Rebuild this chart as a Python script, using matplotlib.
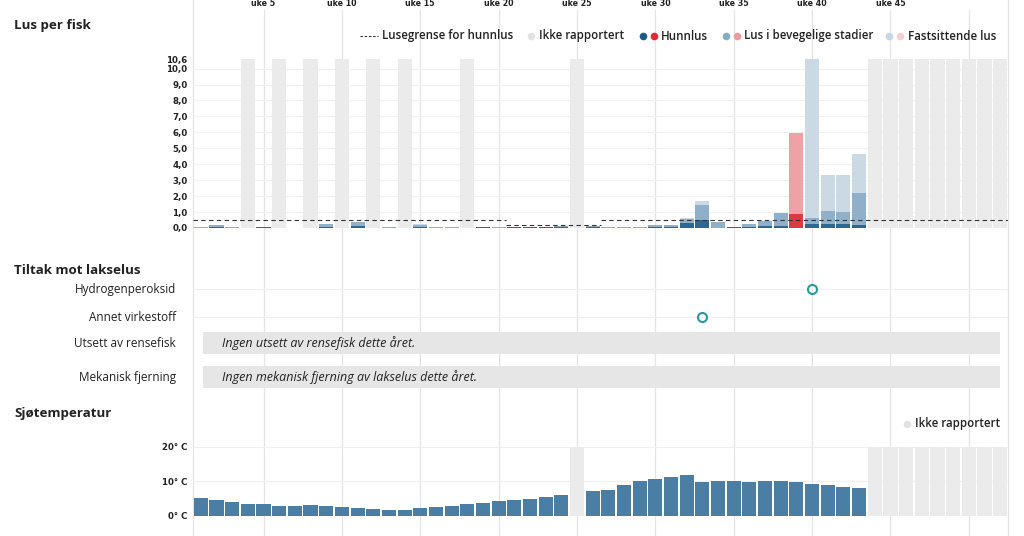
import matplotlib
matplotlib.use("Agg")
import matplotlib.pyplot as plt
import matplotlib.transforms as mtransforms
from matplotlib.patches import Rectangle
import numpy as np

# ---------------- data ----------------
weeks = list(range(1, 53))
not_reported_lice = [4, 6, 8, 10, 12, 14, 18, 25] + list(range(44, 53))
# lice per fish by week (weeks not reported -> 0)
hunnlus = [0.02, 0.05, 0.01, 0, 0.04, 0, 0.01, 0, 0.08, 0,
           0.15, 0, 0.02, 0, 0.05, 0.01, 0.01, 0, 0.04, 0.03,
           0.05, 0.04, 0.05, 0.08, 0, 0.06, 0.01, 0.01, 0.02, 0.05,
           0.07, 0.30, 0.50, 0.02, 0.05, 0.08, 0.12, 0.12, 0.85, 0.25,
           0.27, 0.22, 0.20] + [0] * 9
bevegelige = [0.03, 0.15, 0.03, 0, 0.02, 0, 0.02, 0, 0.14, 0,
              0.20, 0, 0.05, 0, 0.15, 0.04, 0.04, 0, 0.02, 0.03,
              0.03, 0.04, 0.03, 0.05, 0, 0.05, 0.04, 0.04, 0.05, 0.12,
              0.11, 0.25, 0.97, 0.37, 0.02, 0.17, 0.33, 0.83, 5.10, 0.40,
              0.80, 0.78, 1.97] + [0] * 9
fastsittende = [0, 0, 0.01, 0, 0, 0, 0, 0, 0.02, 0,
                0.02, 0, 0, 0, 0.02, 0, 0, 0, 0, 0,
                0, 0, 0, 0, 0, 0, 0, 0, 0, 0.02,
                0.02, 0.07, 0.20, 0.01, 0, 0, 0, 0, 0, 9.95,
                2.28, 2.35, 2.50] + [0] * 9
lusegrense = [0.5] * 20 + [0.2] * 6 + [0.5] * 26
lice_ymax = 10.6
lice_ticks = [0, 1, 2, 3, 4, 5, 6, 7, 8, 9, 10, 10.6]

treatment_rows = ["Hydrogenperoksid", "Annet virkestoff", "Utsett av rensefisk", "Mekanisk fjerning"]
treatment_weeks = {"Hydrogenperoksid": [40], "Annet virkestoff": [33]}
treatment_notes = {"Utsett av rensefisk": "Ingen utsett av rensefisk dette året.",
                   "Mekanisk fjerning": "Ingen mekanisk fjerning av lakselus dette året."}

temperature = [5.1, 4.5, 4.1, 3.4, 3.3, 2.8, 2.9, 3.0, 2.7, 2.4,
               2.3, 2.0, 1.7, 1.8, 2.2, 2.5, 2.9, 3.3, 3.7, 4.2,
               4.5, 4.9, 5.4, 6.0, None, 7.1, 7.6, 8.8, 10.1, 10.6,
               11.3, 11.8, 9.9, 10.1, 10.2, 9.9, 10.1, 10.0, 9.7, 9.1,
               8.8, 8.5, 8.2] + [None] * 9
temp_ticks = [0, 10, 20]
temp_ymax = 20

week_label_ticks = [5, 10, 15, 20, 25, 30, 35, 40, 45]
grid_weeks = [5, 10, 15, 20, 25, 30, 35, 40, 45, 50]

# ---------------- style ----------------
W, H = 1024, 536
C_HUN = "#2c6892"
C_BEV = "#90afc8"
C_FAST = "#cbd9e5"
C_HUN_R = "#dc3a42"
C_BEV_R = "#f0a1a5"
C_FAST_R = "#f6cdce"
C_GREY = "#ebebeb"
C_GRID = "#e4e4e4"
C_TEMP = "#4a7ea4"
C_TEAL = "#2a9a9c"
TXT = "#222222"
SANS = ["Open Sans", "DejaVu Sans"]

fig = plt.figure(figsize=(W / 100, H / 100), dpi=100)
fig.patch.set_facecolor("white")


def rect(x0, y0, x1, y1):
    return [x0 / W, 1 - y1 / H, (x1 - x0) / W, (y1 - y0) / H]


XL, XR = 193, 1008
xlim = (0.5, 52.5)

# background axes for vertical grid
ax_bg = fig.add_axes(rect(XL, 0, XR, H))
ax_bg.set_xlim(*xlim)
ax_bg.set_ylim(H, 0)
ax_bg.axis("off")
for g in grid_weeks:
    ax_bg.plot([g, g], [10, H], color=C_GRID, lw=0.9, zorder=0)
for g in xlim:
    ax_bg.plot([g, g], [0, H], color=C_GRID, lw=0.9, zorder=0, clip_on=False)
for g in week_label_ticks:
    ax_bg.text(g, 4, f"uke {g}", ha="center", va="center", fontsize=5.7,
               fontweight="bold", color=TXT, family="DejaVu Sans")

# overlay axes in pixel coords for titles / legends
ax_ov = fig.add_axes([0, 0, 1, 1])
ax_ov.set_xlim(0, W)
ax_ov.set_ylim(H, 0)
ax_ov.axis("off")
ax_ov.patch.set_alpha(0)

for txt, y in [("Lus per fisk", 26), ("Tiltak mot lakselus", 271), ("Sjøtemperatur", 414)]:
    ax_ov.text(14, y, txt, fontsize=9.6, fontweight="bold", color=TXT, family=SANS,
               ha="left", va="center")

# ---------------- lice panel ----------------
ax = fig.add_axes(rect(XL, 59, XR, 228))
ax.patch.set_alpha(0)
ax.set_xlim(*xlim)
ax.set_ylim(0, lice_ymax)
for s in ax.spines.values():
    s.set_visible(False)
ax.set_xticks([])
ax.set_yticks(lice_ticks)
ax.set_yticklabels([f"{t:.1f}".replace(".", ",") for t in lice_ticks])
ax.tick_params(axis="y", length=0, pad=4, labelsize=6.2, labelcolor=TXT)
for lab in ax.get_yticklabels():
    lab.set_fontweight("bold")
    lab.set_family("DejaVu Sans")
for t in lice_ticks[:-1]:
    ax.axhline(t, color="#f0f0f0", lw=0.8, zorder=0)

bw = 0.9
ax.bar(not_reported_lice, [lice_ymax] * len(not_reported_lice), width=bw, color=C_GREY, zorder=1)
hun = np.array(hunnlus)
bev = np.array(bevegelige)
fas = np.array(fastsittende)
over = hun > np.array(lusegrense)
ax.bar(weeks, hun, width=bw, color=[C_HUN_R if o else C_HUN for o in over], zorder=2)
ax.bar(weeks, bev, bottom=hun, width=bw, color=[C_BEV_R if o else C_BEV for o in over], zorder=2)
ax.bar(weeks, fas, bottom=hun + bev, width=bw, color=[C_FAST_R if o else C_FAST for o in over], zorder=2)

# lice limit, segments of equal value
start = 0
for i in range(1, len(weeks) + 1):
    if i == len(weeks) or lusegrense[i] != lusegrense[start]:
        ax.plot([weeks[start] - 0.5, weeks[i - 1] + 0.5], [lusegrense[start]] * 2,
                color="#333333", lw=0.8, ls=(0, (4, 3)), zorder=3)
        start = i

# top legend
ly = 36
ax_ov.plot([360, 378], [ly, ly], color="#333333", lw=0.8, ls=(0, (2.2, 1.6)))
leg_kw = dict(fontsize=8.3, color=TXT, family=SANS, fontweight="semibold", va="center", ha="left")
ax_ov.text(382, ly, "Lusegrense for hunnlus", **leg_kw)
ax_ov.plot([531], [ly], "o", ms=5.5, color="#e2e2e2", mec="none")
ax_ov.text(539, ly, "Ikke rapportert", **leg_kw)
ax_ov.plot([643], [ly], "o", ms=5.5, color="#1d5a87", mec="none")
ax_ov.plot([654], [ly], "o", ms=5.5, color="#e02a34", mec="none")
ax_ov.text(661, ly, "Hunnlus", **leg_kw)
ax_ov.plot([726], [ly], "o", ms=5.5, color="#89abc6", mec="none")
ax_ov.plot([737], [ly], "o", ms=5.5, color="#eb9ca0", mec="none")
ax_ov.text(744, ly, "Lus i bevegelige stadier", **leg_kw)
ax_ov.plot([889], [ly], "o", ms=5.5, color="#c8d6e2", mec="none")
ax_ov.plot([900], [ly], "o", ms=5.5, color="#f7cfd0", mec="none")
ax_ov.text(908, ly, "Fastsittende lus", **leg_kw)

# ---------------- treatment panel ----------------
row_y = [289, 317, 343, 377]
ax_t = fig.add_axes(rect(XL, 262, XR, 400))
ax_t.patch.set_alpha(0)
ax_t.set_xlim(*xlim)
ax_t.set_ylim(400, 262)
ax_t.axis("off")
for name, y in zip(treatment_rows, row_y):
    ax_t.text(XL - 17, y, name, transform=mtransforms.blended_transform_factory(ax_ov.transData, ax_t.transData),
              ha="right", va="center", fontsize=8.5, color=TXT, family=SANS)
    if name in treatment_weeks:
        ax_t.plot(xlim, [y, y], color="#efefef", lw=0.8, zorder=1)
        ax_t.plot(treatment_weeks[name], [y] * len(treatment_weeks[name]), "o", ms=6.5,
                  mfc="none", mec=C_TEAL, mew=1.5, zorder=3)
    if name in treatment_notes:
        h = 22.5
        ax_t.add_patch(Rectangle((1.13, y - h / 2), 52.0 - 1.13, h, facecolor="#e6e6e6",
                                 edgecolor="none", zorder=2))
        ax_t.text(2.35, y, treatment_notes[name], ha="left", va="center", fontsize=9.0,
                  style="italic", color=TXT, family=SANS, zorder=3)

# ---------------- temperature panel ----------------
ax_s = fig.add_axes(rect(XL, 447, XR, 515.7))
ax_s.patch.set_alpha(0)
ax_s.set_xlim(*xlim)
ax_s.set_ylim(0, temp_ymax)
for s in ax_s.spines.values():
    s.set_visible(False)
ax_s.set_xticks([])
ax_s.set_yticks(temp_ticks)
ax_s.set_yticklabels([f"{t}° C" for t in temp_ticks])
ax_s.tick_params(axis="y", length=0, pad=4, labelsize=6.2, labelcolor=TXT)
for lab in ax_s.get_yticklabels():
    lab.set_fontweight("bold")
    lab.set_family("DejaVu Sans")
for t in temp_ticks:
    ax_s.axhline(t, color="#f0f0f0", lw=0.8, zorder=0)
temp_missing = [w for w, t in zip(weeks, temperature) if t is None]
ax_s.bar(temp_missing, [temp_ymax] * len(temp_missing), width=bw, color=C_GREY, zorder=1)
tw = [w for w, t in zip(weeks, temperature) if t is not None]
tv = [t for t in temperature if t is not None]
ax_s.bar(tw, tv, width=bw, color=C_TEMP, zorder=2)

ax_ov.plot([907], [424], "o", ms=5.5, color="#e2e2e2", mec="none")
ax_ov.text(915, 424, "Ikke rapportert", **leg_kw)

fig.savefig("out.png", dpi=100, facecolor="white")
